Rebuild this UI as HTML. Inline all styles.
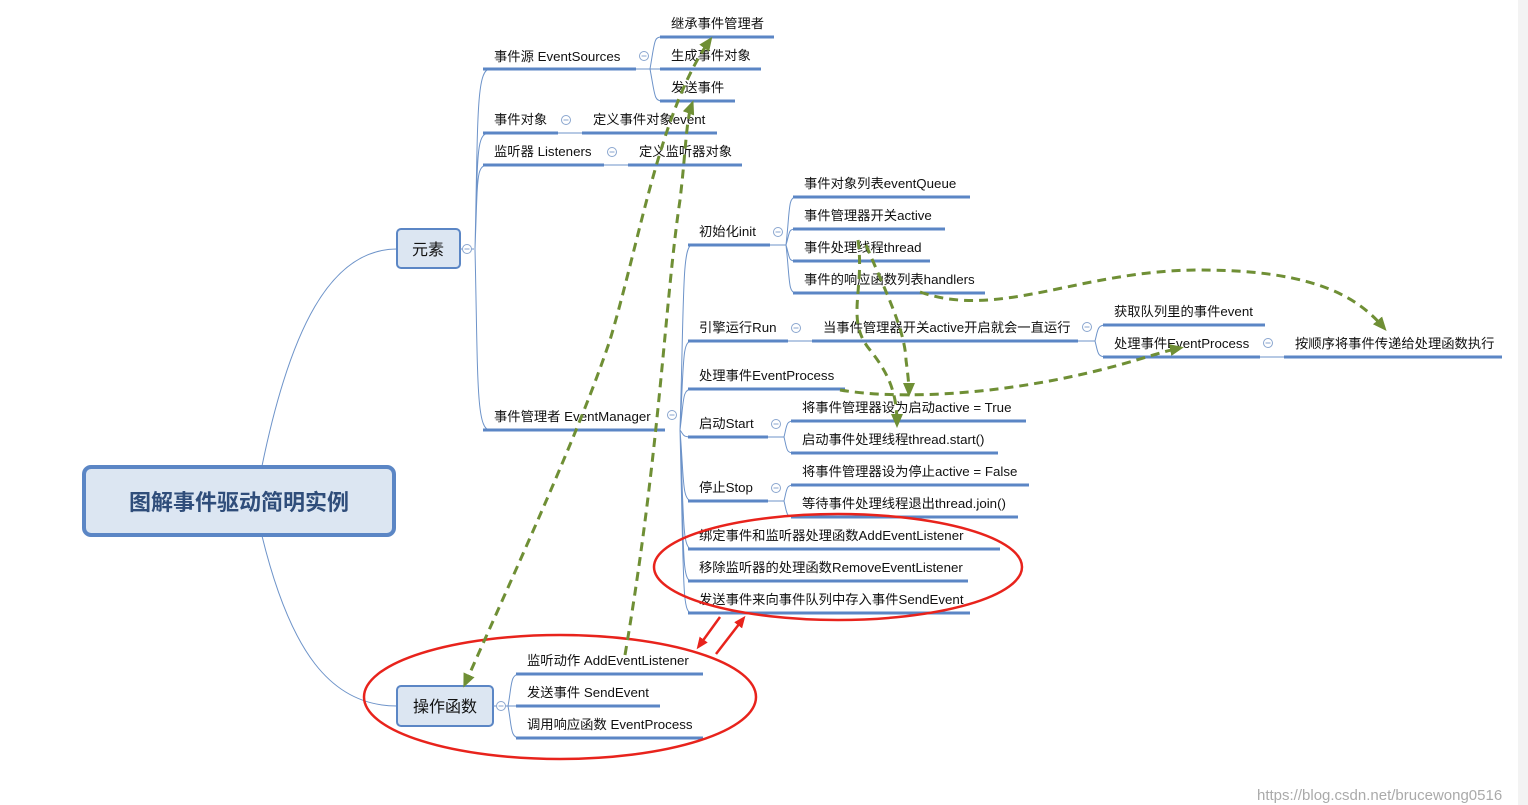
<!DOCTYPE html>
<html><head><meta charset="utf-8"><style>
html,body{margin:0;padding:0;background:#fff;}
svg{display:block;}
text{font-family:"Liberation Sans","Noto Sans CJK SC",sans-serif;font-size:13.3px;fill:#111;}
.u{stroke:#5b86c5;stroke-width:3;fill:none;}
.t{stroke:#6d93c9;stroke-width:1;fill:none;}
.c{fill:#fff;stroke:#8aa6cf;stroke-width:1;}
.g{stroke:#6f8f35;stroke-width:3;stroke-dasharray:9,6;fill:none;}
.r{stroke:#e8231c;stroke-width:2.5;fill:none;}
</style></head><body>
<svg width="1528" height="805" viewBox="0 0 1528 805" xmlns="http://www.w3.org/2000/svg">
<defs>
<marker id="ga" markerWidth="14" markerHeight="14" refX="10" refY="7" orient="auto-start-reverse" markerUnits="userSpaceOnUse"><path d="M0,1 L14,7 L0,13 z" fill="#6f8f35"/></marker>
<marker id="ra" markerWidth="12" markerHeight="12" refX="8" refY="6" orient="auto" markerUnits="userSpaceOnUse"><path d="M0,1 L12,6 L0,11 z" fill="#e8231c"/></marker>
<g id="m"><circle class="c" cx="0" cy="0" r="4.5"/><path d="M-2.5,0 H2.5" stroke="#8aa6cf" stroke-width="1"/></g>
</defs>
<rect x="1518" y="0" width="10" height="805" fill="#f3f3f3"/>
<path class="t" d="M262,466 C290,330 330,249 397,249"/>
<path class="t" d="M262,536 C290,650 330,706 397,706"/>
<rect x="84" y="467" width="310" height="68" rx="7" fill="#dce6f2" stroke="#5b86c5" stroke-width="4"/>
<text x="239" y="510" text-anchor="middle" style="font-size:22px;font-weight:bold;fill:#2f4d7a">图解事件驱动简明实例</text>
<rect x="397" y="229" width="63" height="39" rx="4" fill="#dce6f2" stroke="#5b86c5" stroke-width="2"/>
<text x="428" y="255" text-anchor="middle" style="font-size:16px">元素</text>
<path class="t" d="M460,249 H474"/><use href="#m" x="467" y="249"/>
<path class="t" d="M475,249 C478,120 476,69 490,69 M475,249 C478,150 476,133 490,133 M475,249 C478,170 476,165 490,165 M475,249 C478,380 476,430 490,430"/>
<path class="u" d="M483,69 H636"/><text x="494" y="61">事件源 EventSources</text>
<path class="t" d="M636,69 H660"/><use href="#m" x="644" y="56"/>
<path class="t" d="M650,69 C655,40 654,37 662,37 M650,69 C655,95 654,101 662,101"/>
<path class="u" d="M660,37 H774"/><text x="671" y="28">继承事件管理者</text>
<path class="u" d="M660,69 H761"/><text x="671" y="60">生成事件对象</text>
<path class="u" d="M660,101 H735"/><text x="671" y="92">发送事件</text>
<path class="u" d="M483,133 H558"/><text x="494" y="124">事件对象</text><use href="#m" x="566" y="120"/>
<path class="t" d="M558,133 H582"/><path class="u" d="M582,133 H717"/><text x="593" y="124">定义事件对象event</text>
<path class="u" d="M483,165 H604"/><text x="494" y="156">监听器 Listeners</text><use href="#m" x="612" y="152"/>
<path class="t" d="M604,165 H628"/><path class="u" d="M628,165 H742"/><text x="639" y="156">定义监听器对象</text>
<path class="u" d="M483,430 H665"/><text x="494" y="421">事件管理者 EventManager</text><use href="#m" x="672" y="415"/>
<path class="t" d="M680,430 C684,300 682,245 692,245 M680,430 C684,360 682,341 692,341 M680,430 C684,400 682,389 692,389 M680,430 C684,435 682,437 692,437 M680,430 C684,480 682,501 692,501 M680,430 C684,520 682,549 692,549 M680,430 C684,560 682,581 692,581 M680,430 C684,590 682,613 692,613"/>
<path class="u" d="M688,245 H770"/><text x="699" y="236">初始化init</text><use href="#m" x="778" y="232"/>
<path class="t" d="M770,245 H786 M786,245 C790,210 788,197 796,197 M786,245 C790,232 788,229 796,229 M786,245 C790,258 788,261 796,261 M786,245 C790,280 788,293 796,293"/>
<path class="u" d="M793,197 H970"/><text x="804" y="188">事件对象列表eventQueue</text>
<path class="u" d="M793,229 H945"/><text x="804" y="220">事件管理器开关active</text>
<path class="u" d="M793,261 H930"/><text x="804" y="252">事件处理线程thread</text>
<path class="u" d="M793,293 H985"/><text x="804" y="284">事件的响应函数列表handlers</text>
<path class="u" d="M688,341 H788"/><text x="699" y="332">引擎运行Run</text><use href="#m" x="796" y="328"/>
<path class="t" d="M788,341 H812"/><path class="u" d="M812,341 H1078"/><text x="823" y="332">当事件管理器开关active开启就会一直运行</text><use href="#m" x="1087" y="327"/>
<path class="t" d="M1078,341 H1095 M1095,341 C1098,330 1097,325 1106,325 M1095,341 C1098,352 1097,357 1106,357"/>
<path class="u" d="M1103,325 H1265"/><text x="1114" y="316">获取队列里的事件event</text>
<path class="u" d="M1103,357 H1260"/><text x="1114" y="348">处理事件EventProcess</text><use href="#m" x="1268" y="343"/>
<path class="t" d="M1260,357 H1284"/><path class="u" d="M1284,357 H1502"/><text x="1295" y="348">按顺序将事件传递给处理函数执行</text>
<path class="u" d="M688,389 H845"/><text x="699" y="380">处理事件EventProcess</text>
<path class="u" d="M688,437 H768"/><text x="699" y="428">启动Start</text><use href="#m" x="776" y="424"/>
<path class="t" d="M768,437 H784 M784,437 C787,425 786,421 794,421 M784,437 C787,449 786,453 794,453"/>
<path class="u" d="M791,421 H1026"/><text x="802" y="412">将事件管理器设为启动active = True</text>
<path class="u" d="M791,453 H998"/><text x="802" y="444">启动事件处理线程thread.start()</text>
<path class="u" d="M688,501 H768"/><text x="699" y="492">停止Stop</text><use href="#m" x="776" y="488"/>
<path class="t" d="M768,501 H784 M784,501 C787,489 786,485 794,485 M784,501 C787,513 786,517 794,517"/>
<path class="u" d="M791,485 H1029"/><text x="802" y="476">将事件管理器设为停止active = False</text>
<path class="u" d="M791,517 H1018"/><text x="802" y="508">等待事件处理线程退出thread.join()</text>
<path class="u" d="M688,549 H1000"/><text x="699" y="540">绑定事件和监听器处理函数AddEventListener</text>
<path class="u" d="M688,581 H968"/><text x="699" y="572">移除监听器的处理函数RemoveEventListener</text>
<path class="u" d="M688,613 H970"/><text x="699" y="604">发送事件来向事件队列中存入事件SendEvent</text>
<rect x="397" y="686" width="96" height="40" rx="4" fill="#dce6f2" stroke="#5b86c5" stroke-width="2"/>
<text x="445" y="712" text-anchor="middle" style="font-size:16px">操作函数</text>
<path class="t" d="M493,706 H508"/><use href="#m" x="501" y="706"/>
<path class="t" d="M508,706 C512,685 510,674 520,674 M508,706 H520 M508,706 C512,727 510,738 520,738"/>
<path class="u" d="M516,674 H703"/><text x="527" y="665">监听动作 AddEventListener</text>
<path class="u" d="M516,706 H660"/><text x="527" y="697">发送事件 SendEvent</text>
<path class="u" d="M516,738 H703"/><text x="527" y="729">调用响应函数 EventProcess</text>
<ellipse class="r" cx="838" cy="567" rx="184" ry="53"/>
<ellipse class="r" cx="560" cy="697" rx="196" ry="62"/>
<path class="r" d="M720,617 L699,646" marker-end="url(#ra)"/>
<path class="r" d="M716,654 L743,619" marker-end="url(#ra)"/>
<path class="g" d="M465,684 C520,560 580,430 610,340 C640,240 660,110 710,40" marker-end="url(#ga)" marker-start="url(#ga)"/>
<path class="g" d="M625,655 C660,450 665,300 680,200 C686,150 686,120 692,104" marker-end="url(#ga)"/>
<path class="g" d="M858,240 C865,290 845,320 870,350 C890,375 897,395 897,424" marker-end="url(#ga)"/>
<path class="g" d="M866,245 C885,290 905,330 906,360 C908,375 909,385 909,393" marker-end="url(#ga)"/>
<path class="g" d="M920,292 C1000,320 1080,270 1200,270 C1320,270 1360,300 1384,328" marker-end="url(#ga)"/>
<path class="g" d="M840,390 C900,400 1000,395 1100,370 C1140,360 1160,352 1180,348" marker-end="url(#ga)"/>
<text x="1257" y="800" style="font-size:15px;fill:#aaa">https://blog.csdn.net/brucewong0516</text>
</svg>
</body></html>
